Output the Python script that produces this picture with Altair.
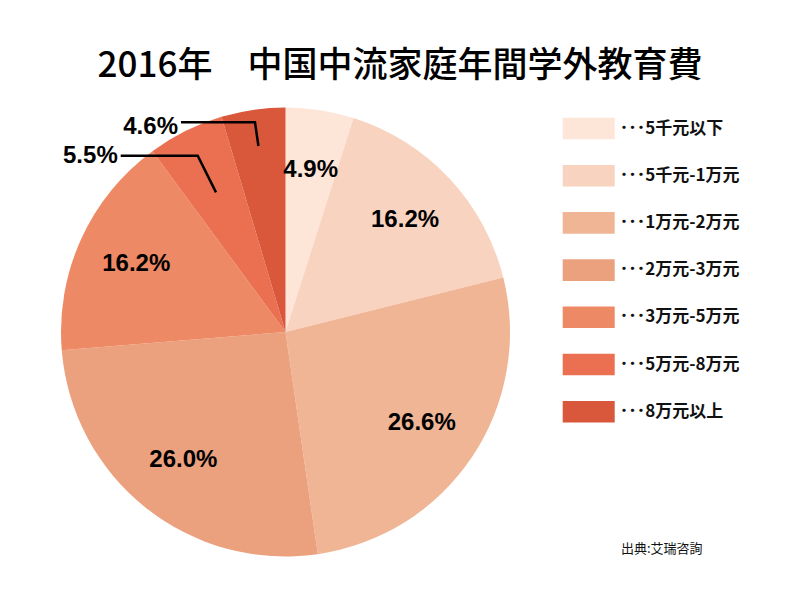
import math
import altair as alt
import pandas as pd

# ---- data ----
categories = ["5千元以下", "5千元-1万元", "1万元-2万元", "2万元-3万元",
              "3万元-5万元", "5万元-8万元", "8万元以上"]
shares = [4.9, 16.2, 26.6, 26.0, 16.2, 5.5, 4.6]
colors = ["#FDE5D8", "#F8D3BF", "#EFB595", "#EBA07E",
          "#EE8965", "#EA7051", "#D9573A"]
title_text = "2016年　中国中流家庭年間学外教育費"
source_text = "出典:艾瑞咨詢"

# ---- layout (view coordinates; view origin at page (8, 98)) ----
PAD_TOP = 90
W, H = 784, 494
CX, CY, R = 277.5, 234, 224.5
INNER_R = 164
# leader lines for labels drawn outside the pie: index -> geometry
outside = {5: dict(r_in=156, r_el=197, length=77, dy=0),
           6: dict(r_in=188, r_el=212, length=74, dy=5)}

df = pd.DataFrame({"cat": categories, "share": shares, "idx": range(len(shares))})
df["label"] = df["share"].map(lambda v: f"{v:.1f}%")
df["inner"] = ["" if i in outside else l for i, l in zip(df["idx"], df["label"])]

total = sum(shares)
cum = 0.0
line_rows, out_rows = [], []
for i, s in enumerate(shares):
    mid = (cum + s / 2) / total * 2 * math.pi
    cum += s
    if i in outside:
        g = outside[i]
        x1, y1 = CX + g["r_in"] * math.sin(mid), CY - g["r_in"] * math.cos(mid)
        x2, y2 = CX + g["r_el"] * math.sin(mid), CY - g["r_el"] * math.cos(mid)
        x3, y3 = x2 - g["length"], y2
        for k, (x, y) in enumerate([(x1, y1), (x2, y2), (x3, y3)]):
            line_rows.append({"id": i, "k": k, "x": x, "y": y})
        out_rows.append({"x": x3 - 3, "y": y3 + g["dy"], "label": df["label"][i]})
lines_df = pd.DataFrame(line_rows)
out_df = pd.DataFrame(out_rows)

LABEL_FONT = "Liberation Sans"
CJK = "Noto Sans CJK JP"

pie = alt.Chart(df).mark_arc(radius=R).encode(
    x=alt.value(CX), y=alt.value(CY),
    theta=alt.Theta("share:Q", stack=True),
    order=alt.Order("idx:Q"),
    color=alt.Color(
        "cat:N",
        scale=alt.Scale(domain=categories, range=colors),
        legend=alt.Legend(
            title=None, orient="none", legendX=554.7, legendY=4.5,
            symbolType="M-1,-0.415L1,-0.415L1,0.415L-1,0.415Z",
            symbolSize=2704, symbolStrokeWidth=0, symbolOpacity=1,
            rowPadding=10.2, labelOffset=5,
            labelFont=CJK, labelFontSize=17, labelFontWeight="bold",
            labelColor="#111111", labelLimit=300,
            labelExpr="'･･･' + datum.label",
        ),
    ),
)

inner_text = alt.Chart(df).mark_text(
    radius=INNER_R, font=LABEL_FONT, fontSize=24, fontWeight="bold", color="black"
).encode(
    x=alt.value(CX), y=alt.value(CY),
    theta=alt.Theta("share:Q", stack=True),
    order=alt.Order("idx:Q"),
    detail="cat:N",
    text="inner:N",
)

leaders = alt.Chart(lines_df).mark_line(color="black", strokeWidth=2.5).encode(
    x=alt.X("x:Q", scale=None, axis=None),
    y=alt.Y("y:Q", scale=None, axis=None),
    detail="id:N",
    order="k:Q",
)

out_text = alt.Chart(out_df).mark_text(
    align="right", baseline="middle", font=LABEL_FONT, fontSize=24,
    fontWeight="bold", color="black"
).encode(
    x=alt.X("x:Q", scale=None, axis=None),
    y=alt.Y("y:Q", scale=None, axis=None),
    text="label:N",
)

source = alt.Chart(pd.DataFrame({"t": [source_text]})).mark_text(
    align="left", baseline="middle", font=CJK, fontSize=13, color="#111111"
).encode(x=alt.value(613), y=alt.value(451), text="t:N")

chart = alt.layer(pie, inner_text, leaders, out_text, source).properties(
    width=W, height=H,
    autosize=alt.AutoSizeParams(type="none"),
    padding={"left": 0, "top": PAD_TOP, "right": 0, "bottom": 0},
    title=alt.TitleParams(title_text, font=CJK, fontSize=35, fontWeight=500,
                          color="black", anchor="middle", offset=14),
).configure_view(stroke=None)

chart.save("out.html", embed_options={"renderer": "svg", "actions": False})
